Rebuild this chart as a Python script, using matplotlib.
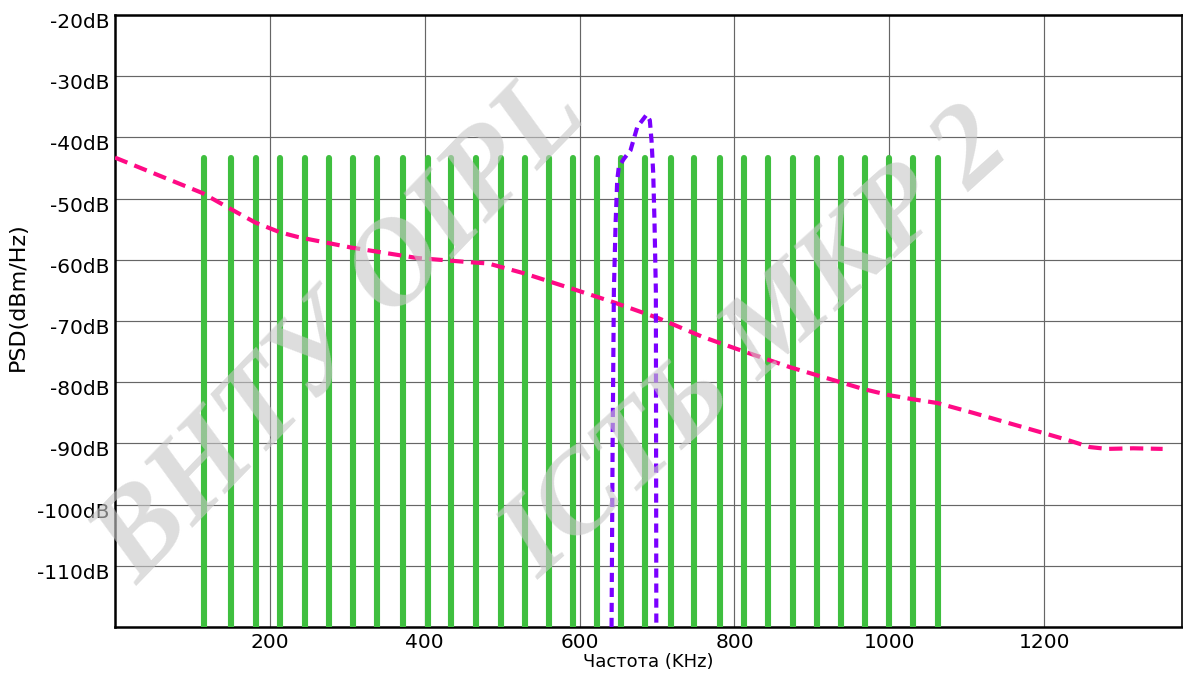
import numpy as np
import matplotlib
matplotlib.use("Agg")
import matplotlib.pyplot as plt
import matplotlib.transforms as mtransforms

# carrier tones (kHz) - green bars
tone_freqs = [115, 150, 182, 213, 245, 277, 307, 339, 372, 404, 434, 466, 498,
              529, 560, 591, 623, 654, 685, 718, 748, 781, 812, 843, 875, 906,
              937, 969, 1000, 1031, 1063]
tone_level = -43.3

# pink dashed PSD mask
mask_freq = [0, 113, 148, 181, 213, 237, 305, 390, 459, 482, 528, 597, 643,
             701, 759, 815, 873, 937, 966, 999, 1031, 1062, 1108, 1152, 1199,
             1229, 1259, 1281, 1315, 1353]
mask_psd = [-43.3, -49.1, -51.6, -53.9, -55.5, -56.3, -58.0, -59.7, -60.4,
            -60.6, -62.2, -65.0, -66.9, -69.5, -72.6, -75.1, -77.6, -80.0, -81.1,
            -82.1, -82.8, -83.4, -85.0, -86.6, -88.3, -89.4, -90.6, -90.9, -90.8,
            -90.9]

# purple dashed interferer
intf_freq = [641.3, 642.6, 644.3, 646.5, 648.6, 650.7, 657.2, 665.8, 674.5, 686.5,
             690.7, 692.9, 695.1, 696.8, 698.5, 698.8, 699.1]
intf_psd = [-120, -91.1, -65.0, -54.1, -47.0, -44.8, -43.5, -42.1, -38.3, -36.3,
            -37.2, -40.5, -45.9, -54.1, -65.0, -91.1, -120]

xticks = [200, 400, 600, 800, 1000, 1200]
yticks = [-20, -30, -40, -50, -60, -70, -80, -90, -100, -110]

fig = plt.figure(figsize=(11.83, 6.77), dpi=100)
ax = fig.add_axes([115 / 1183, 1 - 627 / 677, 1067 / 1183, 612 / 677])

ax.vlines(tone_freqs, -120.5, tone_level, colors='#3fbf3f', linewidth=4.4,
          capstyle='round', zorder=3)
ax.plot(mask_freq, mask_psd, color='#ff0a85', linewidth=3.0,
        dashes=(3.2, 1.8), zorder=4)
ax.plot(intf_freq, intf_psd, color='#7a00ff', linewidth=3.0,
        dashes=(2.2, 1.4), zorder=5)

ax.set_xlim(0, 1378)
ax.set_ylim(-120, -20)
ax.set_xticks(xticks)
ax.set_yticks(yticks)
ax.set_yticklabels([f"{v}dB" for v in yticks])
ax.tick_params(length=0, labelsize=14.5, pad=4)
ax.grid(True, color='#666666', linewidth=0.85, zorder=1)
ax.set_axisbelow(True)

# nudge y labels down a little, as in the original
off = mtransforms.ScaledTranslation(0, -4 / 72, fig.dpi_scale_trans)
for lbl in ax.get_yticklabels():
    lbl.set_transform(lbl.get_transform() + off)

for s in ax.spines.values():
    s.set_color('black')
    s.set_linewidth(1.8)
ax.spines['right'].set_linewidth(1.2)

ax.set_xlabel('Частота (KHz)', fontsize=13, labelpad=1)
ax.set_ylabel('PSD(dBm/Hz)', fontsize=16)
ax.yaxis.set_label_coords(-0.082, 0.54)

# watermark
fig.text(0.29, 0.51, 'ВНТУ ОІРL', fontsize=88, family='Liberation Serif',
         style='italic', weight='bold', color='#c8c8c8', alpha=0.62,
         rotation=46, ha='center', va='center', zorder=10)
fig.text(0.64, 0.49, 'ІСТЬ МКР 2', fontsize=84, family='Liberation Serif',
         style='italic', weight='bold', color='#c8c8c8', alpha=0.62,
         rotation=42, ha='center', va='center', zorder=10)

fig.savefig('out.png', dpi=100)
